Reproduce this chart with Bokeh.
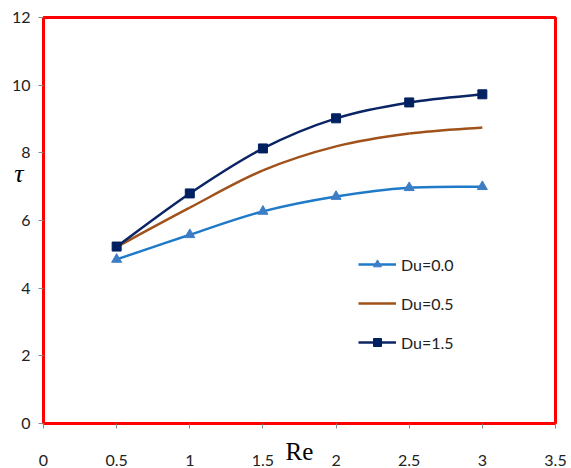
from bokeh.plotting import figure
from bokeh.models import Range1d, Legend, LegendItem, FixedTicker, LinearAxis
from bokeh.embed import file_html
from bokeh.resources import INLINE

re_vals = [0.5, 1.0, 1.5, 2.0, 2.5, 3.0]
tau_du00 = [4.85, 5.58, 6.27, 6.71, 6.97, 7.00]
tau_du05 = [5.22, 6.38, 7.48, 8.19, 8.57, 8.75]
tau_du15 = [5.23, 6.80, 8.13, 9.02, 9.49, 9.73]
x_ticks = [0, 0.5, 1, 1.5, 2, 2.5, 3, 3.5]
y_ticks = [0, 2, 4, 6, 8, 10, 12]
series_labels = ["Du=0.0", "Du=0.5", "Du=1.5"]

FONT = "Lato"

p = figure(width=571, height=468, output_backend="svg", toolbar_location=None,
           x_range=Range1d(0, 3.5), y_range=Range1d(0, 12),
           min_border_left=43, min_border_right=16, min_border_top=17, min_border_bottom=45)
p.xgrid.visible = False
p.ygrid.visible = False
p.background_fill_color = "white"
p.border_fill_color = "white"
p.outline_line_color = "#FF0000"
p.outline_line_width = 3

for ax, ticks in ((p.xaxis[0], x_ticks), (p.yaxis[0], y_ticks)):
    ax.ticker = FixedTicker(ticks=ticks)
    ax.axis_line_color = None
    ax.major_tick_in = 0
    ax.major_tick_out = 5
    ax.major_tick_line_color = "#888888"
    ax.minor_tick_line_color = None
    ax.major_label_text_font = FONT
    ax.major_label_text_font_size = "16px"
    ax.major_label_text_color = "#222222"
p.xaxis[0].major_label_standoff = 26
p.yaxis[0].major_label_standoff = 8

xa = p.xaxis[0]
xa.axis_label = "Re"
xa.axis_label_text_font = "Liberation Serif"
xa.axis_label_text_font_size = "25px"
xa.axis_label_text_font_style = "normal"
xa.axis_label_text_color = "black"
xa.axis_label_standoff = -31

# y-axis title "τ" placed as a single labelled tick on an outer left axis
tau_axis = LinearAxis(ticker=FixedTicker(ticks=[7.4]), major_label_overrides={7.4: "τ"})
tau_axis.axis_line_color = None
tau_axis.major_tick_line_color = None
tau_axis.minor_tick_line_color = None
tau_axis.major_tick_out = 0
tau_axis.major_tick_in = 0
tau_axis.major_label_standoff = -15
tau_axis.major_label_text_font = "Liberation Serif"
tau_axis.major_label_text_font_style = "italic"
tau_axis.major_label_text_font_size = "26px"
tau_axis.major_label_text_color = "black"
p.add_layout(tau_axis, "left")


def bez(xs, ys):
    n = len(xs)
    x0, y0, x1, y1, cx0, cy0, cx1, cy1 = [], [], [], [], [], [], [], []
    for i in range(n - 1):
        pm = i - 1 if i > 0 else i
        pp = i + 2 if i + 2 < n else i + 1
        x0.append(xs[i]); y0.append(ys[i])
        x1.append(xs[i + 1]); y1.append(ys[i + 1])
        cx0.append(xs[i] + (xs[i + 1] - xs[pm]) / 6)
        cy0.append(ys[i] + (ys[i + 1] - ys[pm]) / 6)
        cx1.append(xs[i + 1] - (xs[pp] - xs[i]) / 6)
        cy1.append(ys[i + 1] - (ys[pp] - ys[i]) / 6)
    return dict(x0=x0, y0=y0, x1=x1, y1=y1, cx0=cx0, cy0=cy0, cx1=cx1, cy1=cy1)


c0 = "#1F7AC8"
c1 = "#A0521A"
c2 = "#0B2465"

r0 = p.bezier(line_color=c0, line_width=2.5, **bez(re_vals, tau_du00))
m0 = p.scatter(re_vals, tau_du00, marker="triangle", size=10, fill_color="#3D7DC6", line_color="#3D7DC6")
r1 = p.bezier(line_color=c1, line_width=2.5, **bez(re_vals, tau_du05))
r2 = p.bezier(line_color=c2, line_width=2.5, **bez(re_vals, tau_du15))
m2 = p.scatter(re_vals, tau_du15, marker="square", size=9, fill_color="#002060", line_color="#002060")

legend = Legend(items=[LegendItem(label=series_labels[0], renderers=[r0, m0]),
                       LegendItem(label=series_labels[1], renderers=[r1]),
                       LegendItem(label=series_labels[2], renderers=[r2, m2])],
                location=(315, 71), orientation="vertical")
legend.background_fill_alpha = 0
legend.border_line_color = None
legend.glyph_width = 38
legend.glyph_height = 20
legend.label_height = 20
legend.spacing = 19
legend.padding = 5
legend.margin = 0
legend.label_standoff = 5
legend.label_text_font = FONT
legend.label_text_font_size = "16px"
legend.label_text_color = "#222222"
p.add_layout(legend, "center")

open("out.html", "w").write(file_html(p, INLINE))
